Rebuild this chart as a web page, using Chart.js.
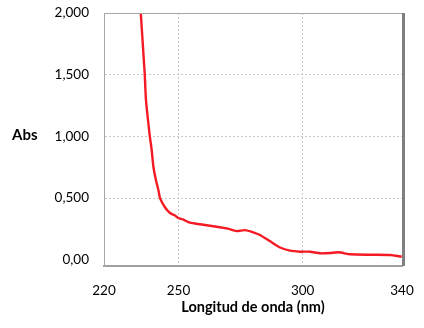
<!DOCTYPE html>
<html>
<head>
<meta charset="utf-8">
<script src="https://cdn.jsdelivr.net/npm/chart.js@4.4.1/dist/chart.umd.min.js"></script>
<style>
  html, body { margin: 0; padding: 0; background: #fff; }
  canvas { display: block; }
</style>
</head>
<body>
<canvas id="spectrumChart" width="424" height="328"></canvas>
<script>
// Absorption spectrum data
const wavelengths = [234.8, 236.4, 236.9, 238.4, 239.2, 239.9, 240.9, 241.9, 242.6, 244.6, 246.6, 248.6, 249.9, 251.8, 254.6, 258.7, 265.4, 269.4, 273.4, 276.8, 280.1, 282.8, 286.9, 290.9, 294.9, 298.9, 303.0, 307.0, 311.0, 314.4, 319.1, 327.1, 335.2, 339.9];
const absorbance = [2.0, 1.506, 1.295, 1.011, 0.89, 0.754, 0.647, 0.566, 0.498, 0.424, 0.379, 0.359, 0.339, 0.327, 0.301, 0.288, 0.268, 0.255, 0.233, 0.241, 0.223, 0.201, 0.15, 0.1, 0.074, 0.066, 0.066, 0.053, 0.055, 0.061, 0.045, 0.041, 0.039, 0.025];

// Axis ticks and their labels
const xTicks = [220, 250, 300, 340];
const yTicks = [0, 0.5, 1, 1.5, 2];
const yTickLabels = ["0,00", "0,500", "1,000", "1,500", "2,000"];

const FONT = "Lato, 'Open Sans', sans-serif";

// Frame lines on top and right, plus the horizontal "Abs" label
const framePlugin = {
    id: "frame",
    afterDraw(chart) {
        const { ctx, chartArea: a } = chart;
        ctx.save();
        ctx.strokeStyle = "#a6a6a6";
        ctx.lineWidth = 1;
        ctx.beginPath();
        ctx.moveTo(a.left, a.top + 0.5);
        ctx.lineTo(a.right, a.top + 0.5);
        ctx.stroke();
        ctx.strokeStyle = "#7f7f7f";
        ctx.lineWidth = 3;
        ctx.beginPath();
        ctx.moveTo(a.right + 1.5, a.top);
        ctx.lineTo(a.right + 1.5, a.bottom);
        ctx.stroke();
        ctx.fillStyle = "#000";
        ctx.font = "bold 15px " + FONT;
        ctx.textAlign = "left";
        ctx.textBaseline = "middle";
        ctx.fillText("Abs", 12, 135);
        ctx.restore();
    }
};

const points = wavelengths.map((w, i) => ({ x: w, y: absorbance[i] }));

new Chart(document.getElementById("spectrumChart"), {
    type: "scatter",
    data: {
        datasets: [{
            data: points,
            showLine: true,
            borderColor: "#f41a24",
            borderWidth: 2.4,
            pointRadius: 0,
            tension: 0.2
        }]
    },
    options: {
        responsive: false,
        animation: false,
        layout: { padding: { top: 13, right: 22, bottom: 0, left: 0 } },
        plugins: { legend: { display: false }, tooltip: { enabled: false } },
        scales: {
            x: {
                type: "linear",
                min: 220,
                max: 340,
                afterFit: s => { s.height = 62; s.paddingLeft = 0; s.paddingRight = 0; },
                afterBuildTicks: s => { s.ticks = xTicks.map(v => ({ value: v })); },
                grid: {
                    drawTicks: false,
                    color: c => (c.tick && (c.tick.value === 250 || c.tick.value === 300)) ? "#c9c9c9" : "rgba(0,0,0,0)",
                    lineWidth: 1
                },
                border: { color: "#a0a0a0", width: 2, dash: [2, 2] },
                ticks: {
                    padding: 17,
                    color: "#000",
                    font: { family: FONT, size: 13.5 },
                    maxRotation: 0,
                    autoSkip: false
                },
                title: {
                    display: true,
                    text: "Longitud de onda (nm)",
                    color: "#000",
                    font: { family: FONT, size: 14.5, weight: "bold" },
                    padding: { top: 0, bottom: 12 }
                }
            },
            y: {
                min: -0.05,
                max: 2,
                afterFit: s => { s.width = 104; s.paddingTop = 0; s.paddingBottom = 0; },
                afterBuildTicks: s => { s.ticks = yTicks.map(v => ({ value: v })); },
                grid: {
                    drawTicks: false,
                    color: c => (c.tick && c.tick.value > 0 && c.tick.value < 2) ? "#c9c9c9" : "rgba(0,0,0,0)",
                    lineWidth: 1
                },
                border: { color: "#a6a6a6", width: 1, dash: [2, 2] },
                ticks: {
                    padding: 15,
                    color: "#000",
                    font: { family: FONT, size: 13.5 },
                    callback: v => yTickLabels[yTicks.indexOf(v)]
                }
            }
        }
    },
    plugins: [framePlugin]
});
</script>
</body>
</html>
